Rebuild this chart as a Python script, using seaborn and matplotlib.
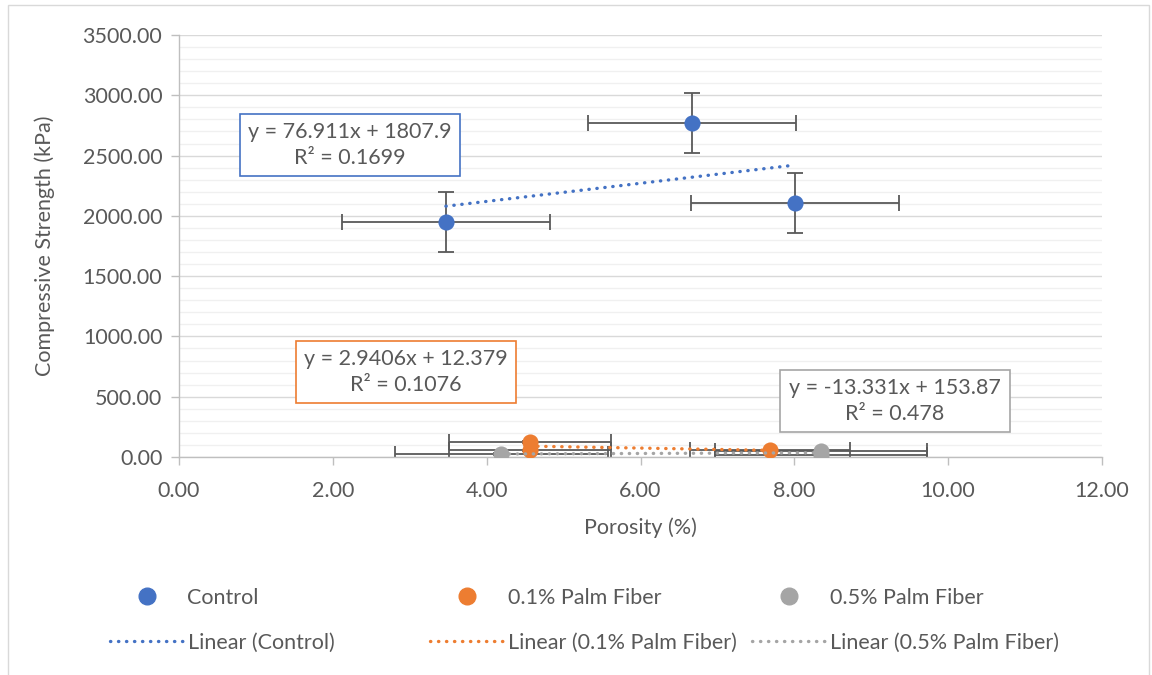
import numpy as np
import pandas as pd
import seaborn as sns
import matplotlib.pyplot as plt
from matplotlib.patches import Rectangle
from matplotlib.lines import Line2D

sns.set_theme(style="white")
plt.rcParams['font.family'] = ['Lato', 'DejaVu Sans']

# ------------ DATA ------------ #
control_x    = [3.47, 6.67, 8.01]
control_y    = [1948, 2768, 2106]
control_xerr = [1.35, 1.35, 1.35]
control_yerr = [250, 250, 250]

fiber01_x    = [4.56, 4.56, 7.69]
fiber01_y    = [125, 55, 55]
fiber01_xerr = [1.05, 1.05, 1.04]
fiber01_yerr = [5, 5, 5]

fiber05_x    = [4.19, 8.35, 8.35]
fiber05_y    = [25, 50, 20]
fiber05_xerr = [1.385, 1.38, 1.38]
fiber05_yerr = [5, 5, 5]

series_names = ['Control', '0.1% Palm Fiber', '0.5% Palm Fiber']
series_colors = ['#4472C4', '#ED7D31', '#A5A5A5']
equations = ['y = 76.911x + 1807.9\nR² = 0.1699',
             'y = 2.9406x + 12.379\nR² = 0.1076',
             'y = -13.331x + 153.87\nR² = 0.478']

series = [
    (control_x, control_y, control_xerr, control_yerr),
    (fiber01_x, fiber01_y, fiber01_xerr, fiber01_yerr),
    (fiber05_x, fiber05_y, fiber05_xerr, fiber05_yerr),
]

txt = '#595959'
fs = 15.5
fig = plt.figure(figsize=(11.52, 6.75), dpi=100)
ax = fig.add_axes([179/1152, 1-457/675, (1102-179)/1152, (457-35)/675])

handles = []
for (x, y, xe, ye), name, col in zip(series, series_names, series_colors):
    df = pd.DataFrame({'x': x, 'y': y})
    ax.errorbar(df.x, df.y, xerr=xe, yerr=ye, fmt='none', ecolor='#595959',
                elinewidth=1.3, capsize=6, capthick=1.3, zorder=2)
    sns.scatterplot(data=df, x='x', y='y', color=col, s=135, edgecolor=col,
                    linewidth=0, ax=ax, zorder=3, legend=False)
    # linear trendline over the data range
    k, b = np.polyfit(df.x, df.y, 1)
    xs = np.array([df.x.min(), df.x.max()])
    sns.lineplot(x=xs, y=k*xs + b, color=col, lw=2.4, dashes=False, ax=ax,
                 zorder=4, legend=False)
    ax.lines[-1].set_dashes((0.1, 2.3))
    ax.lines[-1].set_dash_capstyle('round')
    hm = Line2D([], [], ls='none', marker='o', ms=12, color=col, mec=col)
    hl = Line2D([], [], color=col, lw=2.4, dashes=(0.1, 2.3), dash_capstyle='round')
    handles.append((hm, hl, name))

ax.set_xlim(0, 12)
ax.set_ylim(0, 3500)
ax.set_xticks(np.arange(0, 12.1, 2))
ax.set_yticks(np.arange(0, 3501, 500))
ax.set_yticks(np.arange(0, 3501, 100), minor=True)
ax.set_xticklabels(['%.2f' % v for v in np.arange(0, 12.1, 2)])
ax.set_yticklabels(['%.2f' % v for v in np.arange(0, 3501, 500)])
ax.grid(axis='y', which='major', color='#d9d9d9', lw=1.0, zorder=0)
ax.grid(axis='y', which='minor', color='#f0f0f0', lw=1.0, zorder=0)
ax.set_axisbelow(True)
for s in ['top', 'right']:
    ax.spines[s].set_visible(False)
for s in ['left', 'bottom']:
    ax.spines[s].set_color('#bfbfbf')
    ax.spines[s].set_linewidth(1.0)
ax.tick_params(axis='both', which='major', length=6, width=1, color='#bfbfbf',
               labelsize=fs, labelcolor=txt, pad=6, left=True, bottom=True)
ax.tick_params(axis='x', which='major', pad=11)
ax.tick_params(axis='y', which='minor', length=0)
ax.set_xlabel('Porosity (%)', fontsize=fs, color=txt, labelpad=12)
ax.set_ylabel('Compressive Strength (kPa)', fontsize=fs, color=txt, labelpad=20)

# equation boxes
box_pos = [(350/1152, 1-145/675), (406/1152, 1-372/675), (895/1152, 1-401/675)]
for (bx, by), eq, col in zip(box_pos, equations, series_colors):
    fig.text(bx, by, eq, ha='center', va='center', fontsize=fs, color=txt,
             linespacing=1.35,
             bbox=dict(boxstyle='square,pad=0.4', fc='white', ec=col, lw=1.2))

# legend, one column per series
leg_x = [110/1152, 430/1152, 752/1152]
for (hm, hl, name), lx in zip(handles, leg_x):
    leg = fig.legend([hm, hl], [name, 'Linear (%s)' % name], loc='upper left',
                     bbox_to_anchor=(lx, 1-588/675), frameon=False, fontsize=fs,
                     handlelength=3.4, handletextpad=0.2, labelspacing=1.15,
                     borderpad=0, borderaxespad=0)
    for t in leg.get_texts():
        t.set_color(txt)

# chart area border
fig.add_artist(Rectangle((8/1152, -0.1), 1141/1152, 1.1 - 5/675, fill=False,
                         ec='#d9d9d9', lw=1.0, transform=fig.transFigure))

fig.savefig('out.png', dpi=100)
